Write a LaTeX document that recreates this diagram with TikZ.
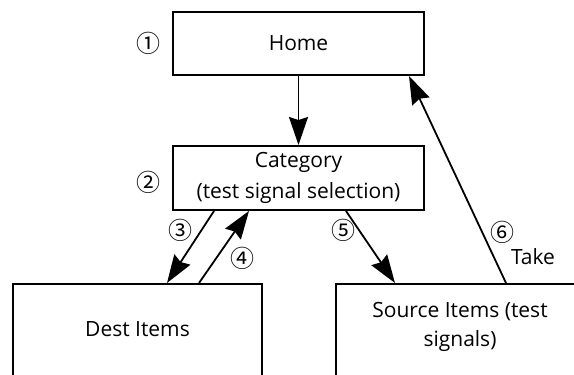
\documentclass[tikz,border=0pt]{standalone}
\usepackage{fontspec}
\setmainfont{Open Sans}
\newfontfamily\circfont{Noto Sans CJK JP}
\usetikzlibrary{arrows.meta,calc}
\begin{document}
\begin{tikzpicture}[x=1pt,y=-1pt,
  box/.style={draw,line width=2pt,inner sep=0pt},
  txt/.style={font=\fontsize{21}{31}\selectfont,inner sep=0pt,align=center},
  num/.style={font=\circfont\fontsize{24}{26}\selectfont,inner sep=0pt},
  conn/.style={line width=1.8pt,-{Stealth[length=28pt,width=19pt,inset=3pt]}}]
\useasboundingbox (0,0) rectangle (574,375);
\clip (0,0) rectangle (574,375);
\node[box,minimum width=251pt,minimum height=63pt,txt] (home) at (298.5,43.5) {Home};
\node[box,minimum width=251pt,minimum height=64pt,txt] (cat) at (298.5,178) {Category\\(test signal selection)};
\node[box,minimum width=249pt,minimum height=140pt,anchor=north] (dest) at (137.5,283) {};
\node[txt] (destt) at ($(dest.north)+(0,46)$) {Dest Items};
\node[box,minimum width=248pt,minimum height=140pt,anchor=north] (src) at (460,283) {};
\node[txt,font=\fontsize{21}{29}\selectfont] (srct) at ($(src.north)+(0,44)$) {Source Items (test\\signals)};
\coordinate (c3a) at ($(cat.south west)+(42,0)$);
\coordinate (c3b) at ($(dest.north west)+(155,0)$);
\coordinate (c4a) at ($(dest.north west)+(187,0)$);
\coordinate (c4b) at ($(cat.south west)+(77,0)$);
\coordinate (c5a) at ($(cat.south west)+(174,0)$);
\coordinate (c5b) at ($(src.north west)+(60,0)$);
\coordinate (c6a) at ($(src.north west)+(171,0)$);
\coordinate (c6b) at ($(home.south west)+(237,0)$);
\draw[conn] (home.south) -- (cat.north);
\draw[conn] (c3a) -- (c3b);
\draw[conn] (c4a) -- (c4b);
\draw[conn] (c5a) -- (c5b);
\draw[conn] (c6a) -- (c6b);
\node[num] (n1) at (148,43) {①};
\node[num] (n2) at (148,182) {②};
\node[num] (n3) at (180,230) {③};
\node[num] (n4) at (242,258) {④};
\node[num] (n5) at (343,230) {⑤};
\node[num] (n6) at (502,232) {⑥};
\node[txt] (take) at (533,257) {Take};
\end{tikzpicture}
\end{document}
